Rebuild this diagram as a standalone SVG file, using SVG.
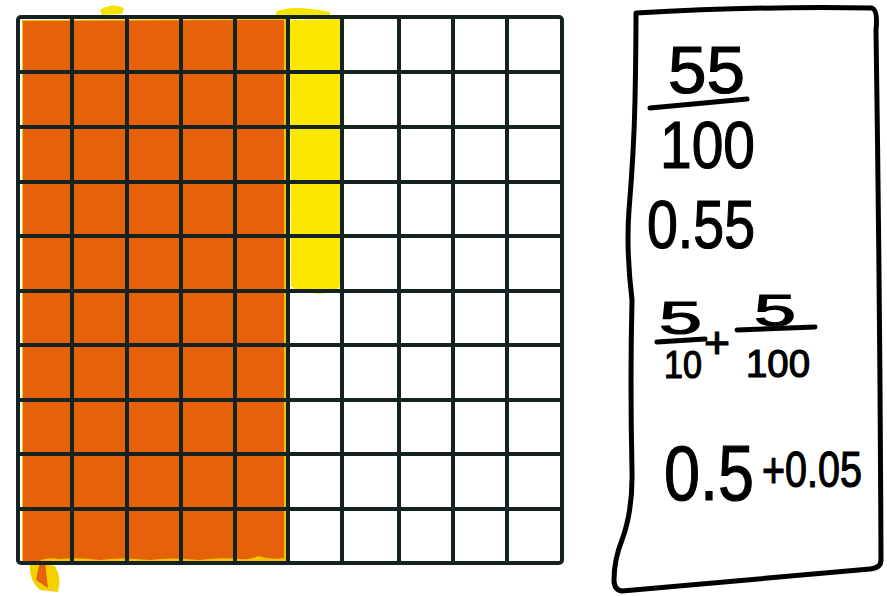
<svg xmlns="http://www.w3.org/2000/svg" width="887" height="596" viewBox="0 0 887 596">
<style>
.grid{stroke:#142222;stroke-width:4;stroke-linecap:round;fill:none}
.box{stroke:#000;stroke-width:5;fill:#fff;stroke-linejoin:round}
.hw{font-family:"Liberation Sans","DejaVu Sans",sans-serif;fill:#000;stroke:#000;stroke-width:1.2}
.bar{stroke:#000;stroke-width:5;stroke-linecap:round}
</style>
<rect width="887" height="596" fill="#fff"/>
<g id="shading">
<path d="M30,560 Q28,580 40,590 L58,592 Q62,578 55,566 Z" fill="#f5d000"/>
<path d="M100,10 Q112,2 124,8 L122,14 L102,15 Z" fill="#f5e200"/>
<path d="M276,12 Q290,4 330,12 L330,18 L276,18 Z" fill="#f2e600"/>
<path d="M22,20 L286,19 L286,561 L22,561 Z" fill="#f0c400"/>
<path d="M23,21 L284,20 L284,558 Q270,560 258,556 Q250,560 240,559 Q220,557 200,560 Q170,557 150,560 Q120,557 100,560 Q80,557 60,559 Q45,557 40,561 L36,580 L48,588 L45,562 L23,561 Z" fill="#e5620a"/>
<path d="M290,20 L340,19 L341,286 Q330,296 312,293 Q296,292 291,286 Z" fill="#fce700"/>
</g>
<g id="grid" class="grid">
<rect x="18" y="17" width="544" height="546" rx="3"/>
<path d="M72,17V563M127,17V563M181,17V563M235,17V563M288,17V563M342,17V563M399,17V563M453,17V563M507,17V563"/>
<path d="M18,72H562M18,127H562M18,182H562M18,236H562M18,291H562M18,345H562M18,400H562M18,454H562M18,509H562"/>
</g>
<g id="card">
<path class="box" d="M636,13 Q760,6 872,8 Q878,10 876,30 Q880,300 881,560 Q881,568 870,569 Q740,580 622,591 Q614,590 614,580 Q614,560 622,540 Q633,510 632,470 Q630,380 632,300 Q626,250 629,210 Q634,150 635,100 Q636,50 636,13 Z"/>
<text class="hw" x="668" y="93" font-size="66" textLength="77" lengthAdjust="spacingAndGlyphs">55</text>
<path class="bar" d="M650,108 L747,99"/>
<text class="hw" x="660" y="168" font-size="66" textLength="95" lengthAdjust="spacingAndGlyphs">100</text>
<text class="hw" x="647" y="248" font-size="68" textLength="108" lengthAdjust="spacingAndGlyphs">0.55</text>
<text class="hw" x="659" y="334" font-size="46" textLength="43" lengthAdjust="spacingAndGlyphs">5</text>
<path class="bar" d="M657,342 L705,339"/>
<text class="hw" x="664" y="378" font-size="38" textLength="38" lengthAdjust="spacingAndGlyphs">10</text>
<text class="hw" x="704" y="358" font-size="44" textLength="26" lengthAdjust="spacingAndGlyphs">+</text>
<text class="hw" x="754" y="326" font-size="44" textLength="42" lengthAdjust="spacingAndGlyphs">5</text>
<path class="bar" d="M737,330 L815,327"/>
<text class="hw" x="746" y="377" font-size="38" textLength="64" lengthAdjust="spacingAndGlyphs">100</text>
<text class="hw" x="664" y="500" font-size="78" textLength="90" lengthAdjust="spacingAndGlyphs">0.5</text>
<text class="hw" x="762" y="487" font-size="50" textLength="100" lengthAdjust="spacingAndGlyphs">+0.05</text>
</g>
</svg>
